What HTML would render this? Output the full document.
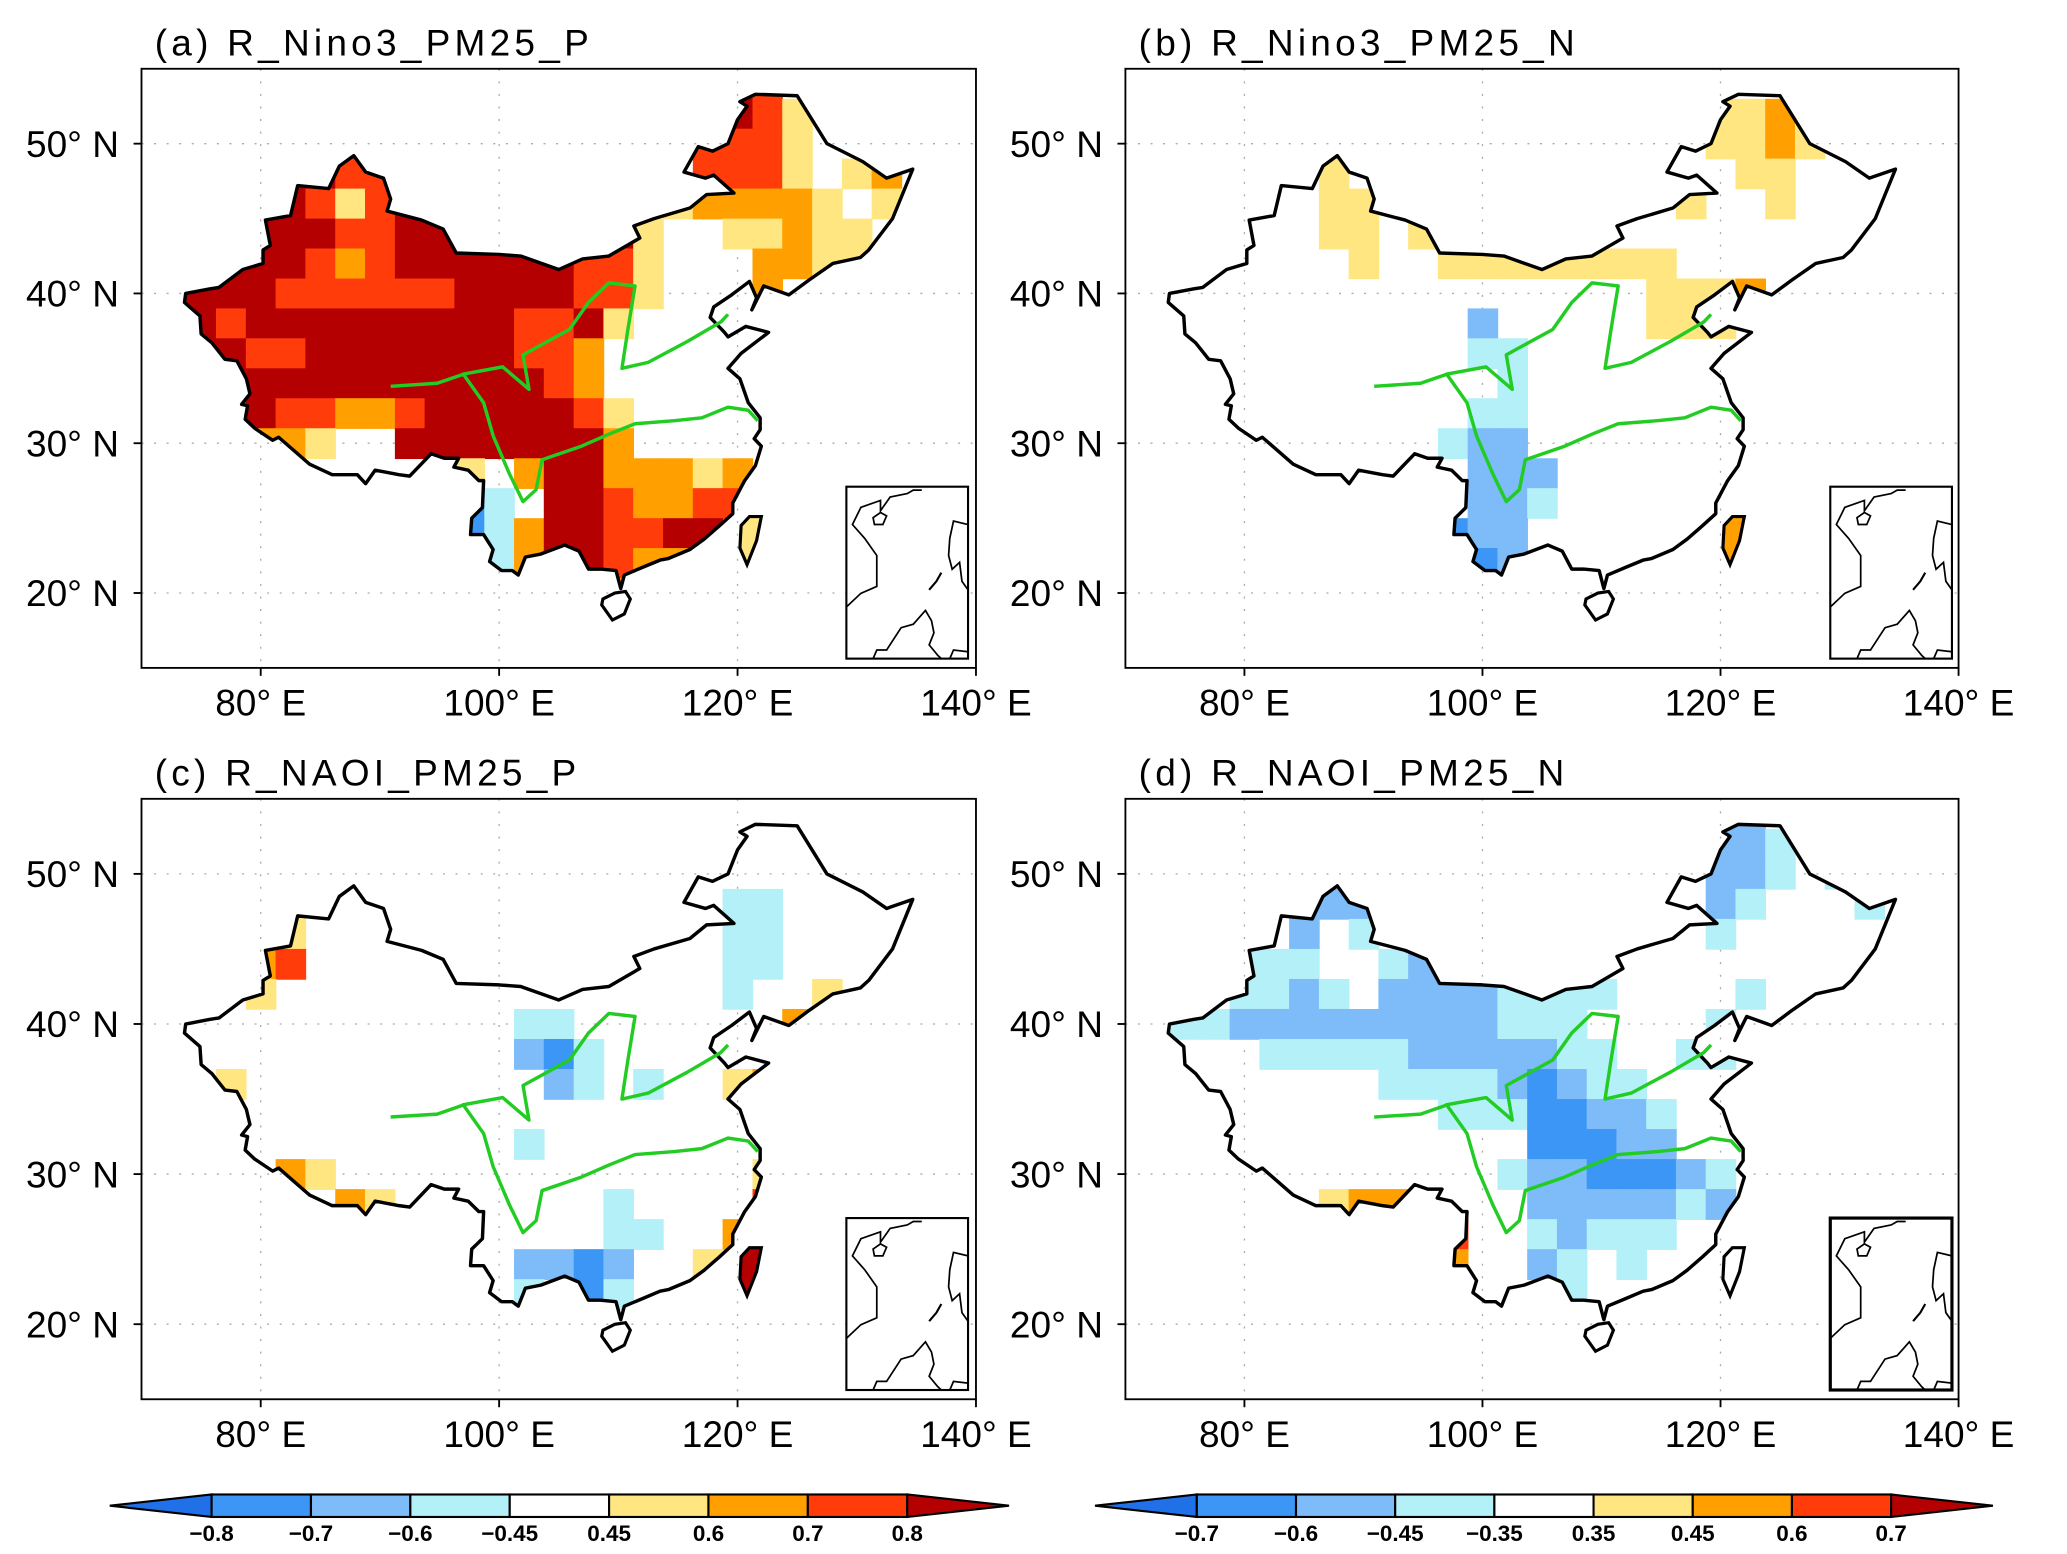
<!DOCTYPE html>
<html><head><meta charset="utf-8"><style>
html,body{margin:0;padding:0;background:#fff;}
svg{display:block;}
text{font-family:"Liberation Sans",sans-serif;}
</style></head><body>
<svg id="fig" width="2067" height="1554" viewBox="0 0 1563 1175" preserveAspectRatio="none" xmlns="http://www.w3.org/2000/svg">
<rect x="0" y="0" width="1563" height="1175" fill="#fff"/>
</svg>
<script>
// ---- data: grid rows, row r spans lat (53-2r)..(55-2r); columns c span lon 71.25+2.5c .. +2.5
// codes: 1..4 positive levels, a..d negative levels, '.' none
const D = n => ".".repeat(n);
const gridA = [
 D(19)+"43"+D(5),
 D(18)+"3431"+D(4),
 D(6)+"3"+D(11)+"3331"+D(2)+"2"+D(1),
 D(4)+"4433"+D(10)+"3331.12"+D(1),
 D(4)+"43134"+D(8)+"122221.1.",
 D(3)+"4443344"+"444444"+"1..11211"+D(2),
 D(2)+"44"+"432344444433"+"1...2211"+D(2),
 "44"+"443333334444331"+"...2.....",
 "44"+"34444444443341"+D(10),
 "44"+"4334444444332"+D(11),
 D(1)+"4"+"4444444444432"+D(11),
 D(1)+"4"+"34332234444431"+D(10),
 D(3)+"221..44444442"+D(10),
 D(10)+"1.24422212"+D(6),
 D(10)+"ca.4432233"+D(6),
 D(10)+"ca2443344"+".1"+D(5),
 D(11)+"a244322"+D(8),
 D(15)+"2"+D(10)
];
const gridB = [
 D(26),
 D(19)+"1121"+D(3),
 D(19)+"1121"+D(3),
 D(6)+"1"+D(13)+"11"+D(4),
 D(6)+"11"+D(10)+"1"+D(2)+"1"+D(4),
 D(6)+"11.1"+D(16),
 D(7)+"1.."+"11111111"+D(8),
 D(17)+"1112"+D(5),
 D(11)+"b"+D(5)+"111"+D(6),
 D(11)+"aa"+D(13),
 D(12)+"a"+D(13),
 D(11)+"aa"+D(13),
 D(10)+"abb"+D(13),
 D(11)+"bbb"+D(12),
 D(11)+"bba"+D(13),
 D(10)+"cbb"+D(13),
 D(11)+"cb"+D(13),
 D(26)
];
const gridC = [
 D(26), D(26), D(26),
 D(4)+"1"+D(14)+"aa"+D(5),
 D(4)+"1"+D(14)+"aa"+D(5),
 D(3)+"23"+D(14)+"aa"+D(5),
 D(3)+"1"+D(15)+"a"+D(2)+"1"+D(3),
 D(12)+"aa"+D(7)+"2"+D(4),
 D(12)+"bca"+D(11),
 D(2)+"1"+D(10)+"ba"+D(1)+"a"+D(2)+"12"+D(5),
 D(26),
 D(12)+"a"+D(13),
 D(4)+"21"+D(14)+"1"+D(5),
 D(6)+"21"+D(7)+"a"+D(4)+"3"+D(5),
 D(15)+"aa"+D(2)+"2"+D(6),
 D(12)+"bbcb"+D(2)+"1"+D(7),
 D(12)+"a.ca"+D(10),
 D(26)
];
const gridD = [
 D(19)+"bb"+D(5),
 D(18)+"bbba"+D(4),
 D(19)+"bba"+D(1)+"a"+D(2),
 D(5)+"bbb"+D(11)+"ba"+D(3)+"a"+D(1),
 D(5)+"b.a"+D(11)+"a"+D(6),
 D(3)+"aaa..abbb"+D(14),
 D(3)+"aaba."+"bbbb"+"aaaa"+D(4)+"a"+D(5),
 "aaa"+"bbbbbbbbb"+"aaa"+D(4)+"a"+D(6),
 D(4)+"aaaaa"+"bbbbb"+"aa"+D(2)+"aa"+D(6),
 D(8)+"aaaabcbaa"+D(9),
 D(10)+"aaaccbba"+D(8),
 D(13)+"cccbb"+D(8),
 D(12)+"abbcccba"+D(6),
 D(6)+"122"+D(4)+"bbbbbab"+D(6),
 D(10)+"3"+D(2)+"abaaa"+D(8),
 D(10)+"2"+D(2)+"ba.a"+D(9),
 D(14)+"a"+D(11),
 D(26)
];
const taiwanLevel = ["1","2","4","."];
const titles = ["(a) R_Nino3_PM25_P","(b) R_Nino3_PM25_N","(c) R_NAOI_PM25_P","(d) R_NAOI_PM25_N"];
const lonTicks = [80,100,120,140];
const latTicks = [20,30,40,50];
const lonGrid = [80,100,120];
const latGrid = [20,30,40,50];
const cbLabelsLeft = ["-0.8","-0.7","-0.6","-0.45","0.45","0.6","0.7","0.8"];
const cbLabelsRight = ["-0.7","-0.6","-0.45","-0.35","0.35","0.45","0.6","0.7"];
const levelCodes = ["d","c","b","a","0","1","2","3","4"];
const colors = {d:"#2070e8",c:"#3c96f5",b:"#7dbcf8",a:"#b4f0f8","0":"#ffffff","1":"#ffe680","2":"#ffa000","3":"#ff3c0a","4":"#b40000"};

// ---- geography (lon, lat)
const china = [[121.5,53.3],[125,53.2],[127.5,50],[130.5,48.8],[132.5,47.7],[134.7,48.3],[133,45],[131,42.9],[130.3,42.4],[128,42],[126,40.9],[124.3,39.9],[122.2,40.5],[121.2,38.9],[121.6,39.7],[121,40.8],[119.5,39.9],[118,39.1],[117.7,38.4],[118.9,37.4],[119.2,37.1],[120.7,37.8],[122.6,37.4],[120.3,36],[119.2,35],[120.2,34.3],[120.9,32.7],[121.9,31.7],[121.9,30.9],[121.4,30.3],[122,29.8],[121.5,28.5],[120.6,27.5],[119.6,26],[119.6,25.3],[118.5,24.5],[117.2,23.6],[116,22.9],[114.2,22.3],[113.5,22.2],[112,21.7],[110.5,21.2],[110.2,20.3],[109.8,21.5],[108.5,21.6],[107.5,21.6],[106.7,22.8],[105.5,23.2],[103.5,22.6],[102.2,22.4],[101.6,21.2],[101.1,21.5],[100.2,21.5],[99.2,22.1],[99.5,22.9],[98.7,23.9],[97.6,23.9],[97.7,25],[98.6,25.7],[98.7,27.5],[98.3,27.5],[97.4,28.2],[96.2,28.4],[96.6,29],[95.4,29],[94.3,29.3],[92.5,27.8],[91.6,27.9],[89.6,28.2],[88.8,27.3],[88.1,27.9],[86,27.9],[84.1,28.6],[81.5,30.4],[81,30.2],[79.5,31],[78.7,31.6],[78.9,32.5],[78.4,32.6],[79.1,33.3],[78.8,34.3],[78,35.5],[77,35.6],[75.9,36.7],[75,37.3],[74.9,38.5],[73.6,39.4],[73.7,40],[75.7,40.3],[76.5,40.4],[78.5,41.6],[80.2,42],[80.2,42.9],[80.8,43.2],[80.4,44.9],[82.5,45.2],[83.1,47.2],[85.7,47],[86.6,48.5],[87.8,49.2],[88.8,48.1],[90.3,47.7],[90.9,46.3],[90.6,45.5],[93.5,44.9],[95.3,44.3],[96.4,42.7],[100,42.6],[101.8,42.5],[105,41.6],[107,42.3],[109.2,42.5],[111.8,43.7],[111.3,44.5],[113,45],[116,45.7],[117.4,46.6],[119.7,46.7],[118,47.9],[117.3,47.7],[115.5,48.1],[116.7,49.8],[117.9,49.5],[119.2,50],[120,51.6],[120.8,52.5],[120.2,52.8]];
const hainan = [[108.6,19.2],[109.5,18.2],[110.5,18.6],[111,19.6],[110.6,20.1],[109.7,20],[108.7,19.6]];
const taiwan = [[121,25.1],[122,25.1],[121.6,23.5],[120.8,21.9],[120.2,23],[120.3,24.5]];
const yangtze = [[90.9,33.8],[94.8,34.0],[97.0,34.6],[98.7,32.7],[99.5,30.5],[100.9,27.9],[102.0,26.1],[103.1,26.9],[103.6,28.9],[106.9,29.8],[109.2,30.6],[111.4,31.3],[114.7,31.5],[117.0,31.7],[119.2,32.4],[120.9,32.2],[121.7,31.5]];
const yellowR = [[96.9,34.6],[100.3,35.1],[102.5,33.6],[102.0,35.9],[105.9,37.6],[107.5,39.4],[109.2,40.7],[111.4,40.5],[110.8,37.6],[110.3,35.0],[112.5,35.4],[115.8,36.8],[118.6,38.1],[119.2,38.6]];

const panels = [
 {x0:107,y0:52,x1:738,y1:505,grid:gridA,id:"a"},
 {x0:851,y0:52,x1:1481,y1:505,grid:gridB,id:"b"},
 {x0:107,y0:604,x1:738,y1:1058,grid:gridC,id:"c"},
 {x0:851,y0:604,x1:1481,y1:1058,grid:gridD,id:"d"}
];
const NS="http://www.w3.org/2000/svg";
const svg=document.getElementById("fig");
function mk(tag,attrs,parent){const e=document.createElementNS(NS,tag);for(const k in attrs)e.setAttribute(k,attrs[k]);(parent||svg).appendChild(e);return e;}
function lonX(p,lon){return p.x0+(lon-70)/70*(p.x1-p.x0);}
function latY(p,lat){return p.y1-(lat-15)/40*(p.y1-p.y0);}
function pts(p,arr){return arr.map(q=>lonX(p,q[0]).toFixed(1)+","+latY(p,q[1]).toFixed(1)).join(" ");}

panels.forEach((p,pi)=>{
  const g=mk("g",{});
  
  
  const cp=mk("clipPath",{id:"clip"+p.id},g);
  mk("polygon",{points:pts(p,china)},cp);
  lonGrid.forEach(lon=>{const l=mk("line",{x1:lonX(p,lon),x2:lonX(p,lon),y1:p.y0,y2:p.y1,stroke:"#aaa","stroke-width":1,"stroke-dasharray":"1.5 8"},g);});
  latGrid.forEach(lat=>{const l=mk("line",{x1:p.x0,x2:p.x1,y1:latY(p,lat),y2:latY(p,lat),stroke:"#aaa","stroke-width":1,"stroke-dasharray":"1.5 8"},g);});
  const cg=mk("g",{"clip-path":"url(#clip"+p.id+")"},g);
  
  
  p.grid.forEach((row,r)=>{
    const latTop=55-2*r, latBot=latTop-2;
    for(let c=0;c<row.length;c++){
      const ch=row[c]; if(ch==="."||!colors[ch]) continue;
      const lonL=71.25+2.5*c, lonR=lonL+2.5;
      const x=lonX(p,lonL), y=latY(p,latTop);
      const cell=mk("rect",{x:x.toFixed(1),y:y.toFixed(1),width:(lonX(p,lonR)-x+0.6).toFixed(1),height:(latY(p,latBot)-y+0.6).toFixed(1),fill:colors[ch]},cg);
      
      
    }
  });
  const b=mk("polygon",{points:pts(p,china),fill:"none",stroke:"#000","stroke-width":2.6,"stroke-linejoin":"round"},g);
  
  const h=mk("polygon",{points:pts(p,hainan),fill:"#fff",stroke:"#000","stroke-width":2.4},g);
  
  const tl=taiwanLevel[pi];
  const t=mk("polygon",{points:pts(p,taiwan),fill:(tl!=="."?colors[tl]:"#fff"),stroke:"#000","stroke-width":2.4},g);
  
  const yz=mk("polyline",{points:pts(p,yangtze),fill:"none",stroke:"#22cc22","stroke-width":2.6,"stroke-linejoin":"round"},g);
  
  const yr=mk("polyline",{points:pts(p,yellowR),fill:"none",stroke:"#22cc22","stroke-width":2.6,"stroke-linejoin":"round"},g);
  
  const ix=p.x0+533, iy=p.y1-137, iw=92, ih=130;
  const ig=mk("g",{},g);
  
  mk("rect",{x:ix,y:iy,width:iw,height:ih,fill:"#fff",stroke:"#000","stroke-width":p.id==="d"?2.4:1.6},ig);
  const rel=a=>a.map(q=>(ix+q[0]*iw).toFixed(1)+","+(iy+q[1]*ih).toFixed(1)).join(" ");
  mk("polyline",{points:rel([[0,0.7],[0.12,0.62],[0.25,0.58],[0.25,0.4],[0.15,0.3],[0.05,0.22],[0.12,0.12],[0.28,0.08],[0.28,0.14],[0.36,0.06],[0.5,0.04],[0.55,0.02],[0.62,0.02]]),fill:"none",stroke:"#000","stroke-width":1.3},ig);
  mk("polygon",{points:rel([[0.22,0.18],[0.28,0.15],[0.33,0.17],[0.3,0.22],[0.23,0.22]]),fill:"none",stroke:"#000","stroke-width":1.3},ig);
  mk("polyline",{points:rel([[1,0.22],[0.88,0.2],[0.85,0.3],[0.84,0.4],[0.87,0.48],[0.93,0.44],[0.95,0.55],[1,0.6]]),fill:"none",stroke:"#000","stroke-width":1.3},ig);
  mk("polyline",{points:rel([[0.68,0.6],[0.74,0.55],[0.78,0.5]]),fill:"none",stroke:"#000","stroke-width":1.6},ig);
  mk("polyline",{points:rel([[0.22,1],[0.25,0.95],[0.33,0.95],[0.45,0.82],[0.55,0.8],[0.65,0.72],[0.7,0.78],[0.72,0.85],[0.68,0.92],[0.75,0.98],[0.78,1]]),fill:"none",stroke:"#000","stroke-width":1.3},ig);
  mk("polyline",{points:rel([[0.85,1],[0.88,0.95],[1,0.96]]),fill:"none",stroke:"#000","stroke-width":1.3},ig);
  const f=mk("rect",{x:p.x0,y:p.y0,width:p.x1-p.x0,height:p.y1-p.y0,fill:"none",stroke:"#000","stroke-width":1.4},g);
  
  lonTicks.forEach(lon=>{
    const x=lonX(p,lon);
    const tk=mk("line",{x1:x,x2:x,y1:p.y1,y2:p.y1+6,stroke:"#000","stroke-width":1.4},g);
    
    const tx=mk("text",{x:x,y:p.y1+36,"font-size":28,"text-anchor":"middle"},g);
    tx.textContent=lon+"° E";
    
  });
  latTicks.forEach(lat=>{
    const y=latY(p,lat);
    const tk=mk("line",{x1:p.x0-6,x2:p.x0,y1:y,y2:y,stroke:"#000","stroke-width":1.4},g);
    
    const tx=mk("text",{x:p.x0-17,y:y+10,"font-size":28,"text-anchor":"end"},g);
    tx.textContent=lat+"° N";
    
  });
  const tt=mk("text",{x:p.x0+10,y:p.y0-10,"font-size":28,"letter-spacing":"3.2"},g);
  tt.textContent=titles[pi];
  
});

function colorbar(x0,x1,labels,name){
  const g=mk("g",{});
  
  
  const y0=1130,y1=1147,ym=(y0+y1)/2;
  const n=levelCodes.length; const tri=77; const bw=(x1-x0-2*tri)/(n-2);
  mk("polygon",{points:`${x0},${ym} ${x0+tri},${y0} ${x0+tri},${y1}`,fill:colors[levelCodes[0]],stroke:"#000","stroke-width":1.6},g);
  for(let i=1;i<n-1;i++){
    const r=mk("rect",{x:x0+tri+(i-1)*bw,y:y0,width:bw,height:y1-y0,fill:colors[levelCodes[i]],stroke:"#000","stroke-width":1.6},g);
    
  }
  mk("polygon",{points:`${x1},${ym} ${x1-tri},${y0} ${x1-tri},${y1}`,fill:colors[levelCodes[n-1]],stroke:"#000","stroke-width":1.6},g);
  labels.forEach((lb,i)=>{
    const t=mk("text",{x:x0+tri+i*bw,y:y1+18,"font-size":17,"font-weight":"bold","text-anchor":"middle"},g);
    t.textContent=lb.replace("-","\u2212");
    
  });
}
colorbar(83,763,cbLabelsLeft,"colorbar-left");
colorbar(828,1507,cbLabelsRight,"colorbar-right");
</script>
</body></html>
